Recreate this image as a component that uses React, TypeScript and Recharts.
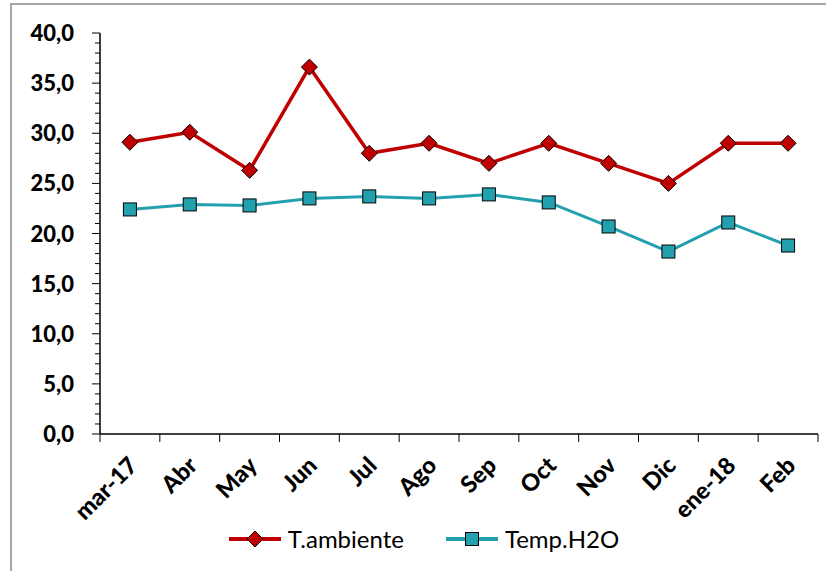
import React from 'react';
import { LineChart, Line, XAxis, YAxis, Legend } from 'recharts';

const months = ['mar-17', 'Abr', 'May', 'Jun', 'Jul', 'Ago', 'Sep', 'Oct', 'Nov', 'Dic', 'ene-18', 'Feb'];
const tAmbiente = [29.1, 30.1, 26.3, 36.6, 28.0, 29.0, 27.0, 29.0, 27.0, 25.0, 29.0, 29.0];
const tempH2O = [22.4, 22.9, 22.8, 23.5, 23.7, 23.5, 23.9, 23.1, 20.7, 18.2, 21.1, 18.8];
const yTicks = Array.from({ length: 41 }, (_, i) => i);

const data = months.map((m, i) => ({ month: m, amb: tAmbiente[i], h2o: tempH2O[i] }));

const RED = '#C00000';
const TEAL = '#23A0AE';
const FONT = 'Lato, "Open Sans", sans-serif';

const Diamond = ({ cx, cy, r = 8 }: any) => (
  <polygon points={`${cx},${cy - r} ${cx + r},${cy} ${cx},${cy + r} ${cx - r},${cy}`} fill={RED} stroke="#000" strokeWidth={1} />
);
const Square = ({ cx, cy, s = 13 }: any) => (
  <rect x={cx - s / 2} y={cy - s / 2} width={s} height={s} fill={TEAL} stroke="#000" strokeWidth={1} />
);

const YTick = (props: any) => {
  const { x, y, payload } = props;
  const v = payload.value;
  const major = v % 5 === 0;
  return (
    <g>
      <line x1={x - (major ? 8 : 5)} x2={x} y1={y} y2={y} stroke="#000" strokeWidth={1} />
      {major && (
        <text x={x - 26} y={y} dy={8} textAnchor="end" fontFamily={FONT} fontWeight={900} fontSize={22} fill="#000">
          {v.toFixed(1).replace('.', ',')}
        </text>
      )}
    </g>
  );
};

const XTick = (props: any) => {
  const { x, y, payload, index, visibleTicksCount } = props;
  const half = payload.offset != null && payload.offset > 0 ? payload.offset : 718 / 24;
  const last = index === (visibleTicksCount ?? 12) - 1;
  const tx = x + 9;
  const ty = y + 33;
  return (
    <g>
      <line x1={x - half} x2={x - half} y1={y} y2={y + 8} stroke="#000" strokeWidth={1} />
      {last && <line x1={x + half} x2={x + half} y1={y} y2={y + 8} stroke="#000" strokeWidth={1} />}
      <text
        x={tx}
        y={ty}
        textAnchor="end"
        fontFamily={FONT}
        fontWeight={900}
        fontSize={23.5}
        fill="#000"
        transform={`rotate(-45 ${tx} ${ty})`}
      >
        {payload.value}
      </text>
    </g>
  );
};

const LegendContent = () => (
  <div style={{ display: 'flex', justifyContent: 'center', alignItems: 'center', fontFamily: FONT, fontSize: 24, color: '#000', paddingLeft: 28 }}>
    <svg width={56} height={20} style={{ marginRight: 5 }}>
      <line x1={2} x2={54} y1={10} y2={10} stroke={RED} strokeWidth={4} />
      <Diamond cx={28} cy={10} r={8} />
    </svg>
    <span style={{ marginRight: 40 }}>T.ambiente</span>
    <svg width={56} height={20} style={{ marginRight: 5 }}>
      <line x1={2} x2={54} y1={10} y2={10} stroke={TEAL} strokeWidth={4} />
      <Square cx={28} cy={10} s={13} />
    </svg>
    <span>Temp.H2O</span>
  </div>
);

export default function App() {
  return (
    <div style={{ position: 'absolute', left: 0, top: 0, width: 826, height: 571, overflow: 'hidden', background: '#fff' }}>
      <div style={{ position: 'absolute', left: 10, top: 3, width: 900, height: 700, border: '2px solid #a6a6a6' }} />
      <div style={{ position: 'absolute', left: 0, top: 0 }}>
        <LineChart width={826} height={571} data={data} margin={{ top: 33, right: 8, left: 0, bottom: 0 }}>
          <XAxis
            dataKey="month"
            scale="band"
            interval={0}
            tickLine={false}
            tickSize={0}
            tickMargin={0}
            height={97}
            axisLine={{ stroke: '#000', strokeWidth: 1.5 }}
            tick={<XTick />}
          />
          <YAxis
            domain={[0, 40]}
            ticks={yTicks}
            interval={0}
            width={100}
            tickLine={false}
            tickSize={0}
            tickMargin={0}
            axisLine={{ stroke: '#000', strokeWidth: 1.5 }}
            tick={<YTick />}
          />
          <Legend verticalAlign="bottom" height={40} content={<LegendContent />} wrapperStyle={{ bottom: 7 }} />
          <Line dataKey="amb" stroke={RED} strokeWidth={3.5} isAnimationActive={false} dot={(p: any) => <Diamond key={p.index} cx={p.cx} cy={p.cy} />} />
          <Line dataKey="h2o" stroke={TEAL} strokeWidth={3} isAnimationActive={false} dot={(p: any) => <Square key={p.index} cx={p.cx} cy={p.cy} />} />
        </LineChart>
      </div>
    </div>
  );
}
